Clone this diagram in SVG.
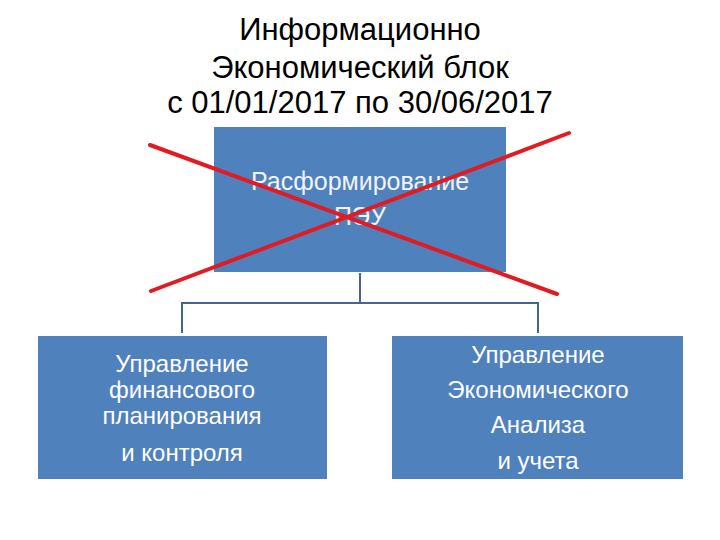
<svg xmlns="http://www.w3.org/2000/svg" width="720" height="540" viewBox="0 0 720 540">
<style>
.title{font-family:"Liberation Sans","DejaVu Sans",sans-serif;font-size:31px;fill:#000;text-anchor:middle}
.box{fill:#4F81BD}
.lbl{font-family:"Liberation Sans","DejaVu Sans",sans-serif;font-size:24px;fill:#fff;text-anchor:middle}
.top{font-size:25px;fill:#f2f4f8}
.conn{stroke:#43658f;stroke-width:2;fill:none}
.cross{stroke:#e11b22;stroke-width:4;stroke-linecap:round}
</style>
<rect width="720" height="540" fill="#fff"/>
<g id="title">
<text class="title" x="360" y="40">Информационно</text>
<text class="title" x="360" y="78">Экономический блок</text>
<text class="title" x="360" y="113">с 01/01/2017 по 30/06/2017</text>
</g>
<g id="connectors">
<path class="conn" d="M360 273 V303 M182 303 H538 M182 302 V333 M538 302 V333"/>
</g>
<g id="node-top">
<rect class="box" x="214" y="127" width="292" height="145"/>
<text class="lbl top" x="360" y="190">Расформирование</text>
<text class="lbl top" x="360" y="225">ПЭУ</text>
</g>
<g id="node-left">
<rect class="box" x="38" y="336" width="289" height="143"/>
<text class="lbl" x="182" y="372">Управление</text>
<text class="lbl" x="182" y="398">финансового</text>
<text class="lbl" x="182" y="424">планирования</text>
<text class="lbl" x="182" y="461">и контроля</text>
</g>
<g id="node-right">
<rect class="box" x="392" y="336" width="291" height="143"/>
<text class="lbl" x="538" y="363">Управление</text>
<text class="lbl" x="538" y="398">Экономического</text>
<text class="lbl" x="538" y="433">Анализа</text>
<text class="lbl" x="538" y="469">и учета</text>
</g>
<g id="cross">
<line class="cross" x1="150" y1="145" x2="557" y2="294"/>
<line class="cross" x1="569" y1="133" x2="151" y2="291"/>
</g>
</svg>
